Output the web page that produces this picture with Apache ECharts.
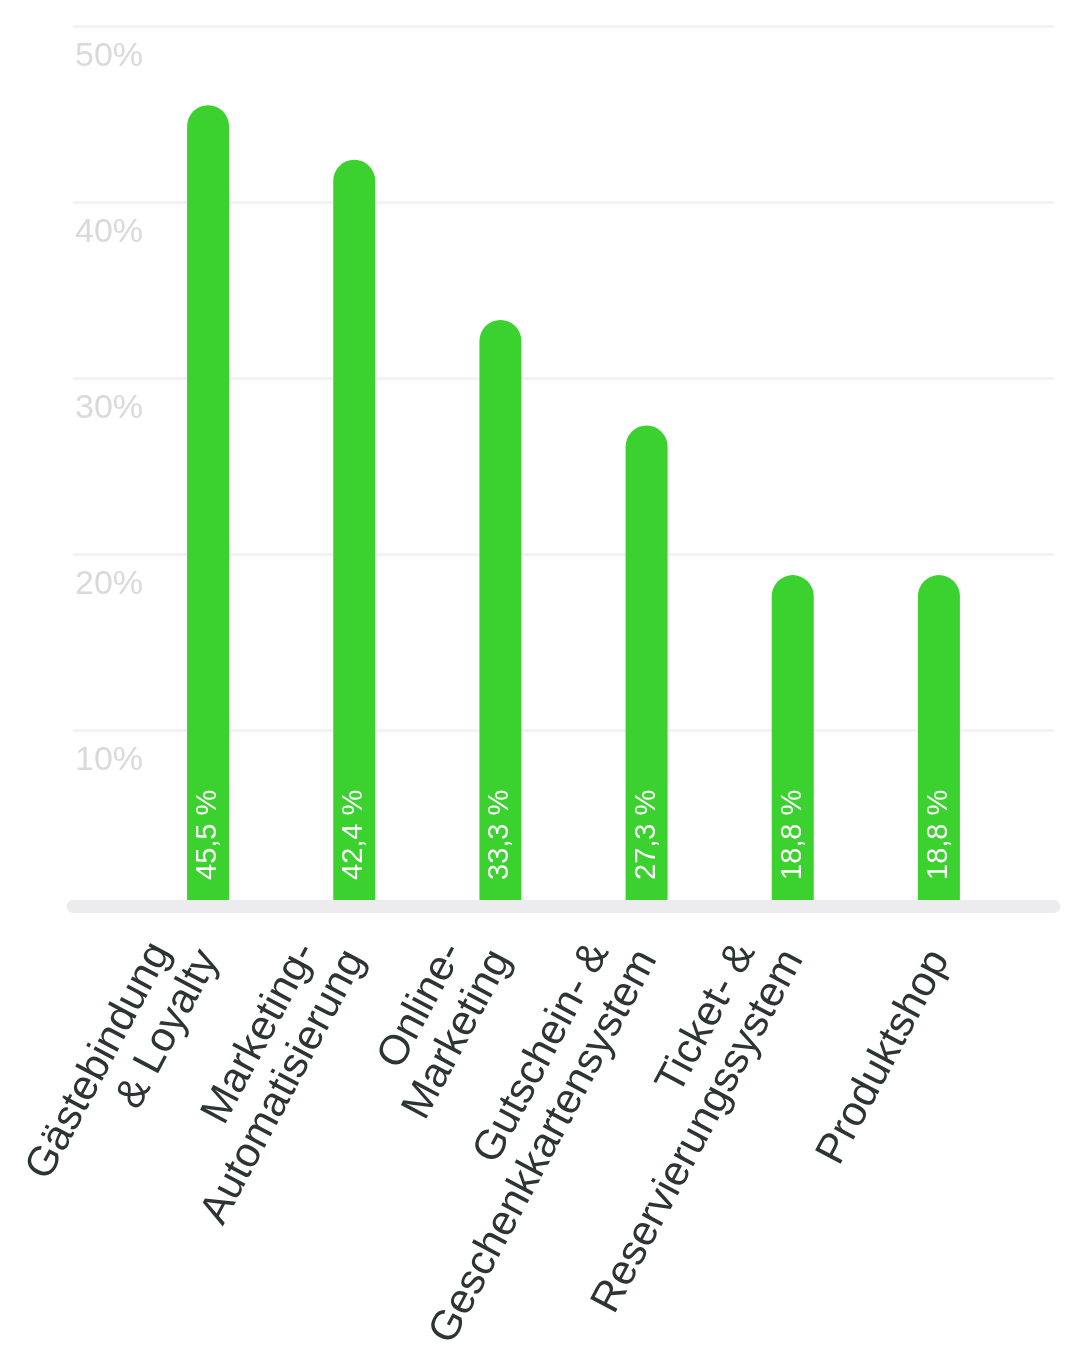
<!DOCTYPE html>
<html>
<head>
<meta charset="utf-8">
<script src="https://cdn.jsdelivr.net/npm/echarts@6/dist/echarts.min.js"></script>
<style>
html,body{margin:0;padding:0;background:#fff;}
#c{width:1081px;height:1361px;}
</style>
</head>
<body>
<div id="c"></div>
<script>
const categories = ['Gästebindung\n& Loyalty', 'Marketing-\nAutomatisierung', 'Online-\nMarketing', 'Gutschein- &\nGeschenkkartensystem', 'Ticket- &\nReservierungssystem', 'Produktshop'];
const values = [45.5, 42.4, 33.3, 27.3, 18.8, 18.8];
const yTicks = [0, 10, 20, 30, 40, 50];

const FONT = "'Liberation Sans', Arial, Helvetica, sans-serif";
const chart = echarts.init(document.getElementById('c'), null, {renderer: 'canvas'});

chart.setOption({
  animation: false,
  backgroundColor: '#ffffff',
  grid: [
    {left: 73, right: 27, top: 26, bottom: 455},
    {left: 135, right: 69, top: 26, bottom: 455},
    {left: 156, right: 48, top: 26, bottom: 455}
  ],
  xAxis: [
    {
      gridIndex: 0, type: 'value', min: 0, max: 1, z: 10,
      axisLabel: {show: false}, axisTick: {show: false}, splitLine: {show: false},
      axisLine: {show: true, lineStyle: {color: '#ececee', width: 13, cap: 'round'}}
    },
    {
      gridIndex: 1, type: 'category', data: categories,
      axisLabel: {show: false}, axisTick: {show: false}, axisLine: {show: false}
    },
    {
      gridIndex: 2, type: 'category', data: categories,
      axisTick: {show: false}, axisLine: {show: false},
      axisLabel: {
        interval: 0, rotate: 62, margin: 58, align: 'right', verticalAlign: 'bottom',
        formatter: function (v) {
          const p = v.split('\n');
          if (p.length === 1) return '{b|' + p[0] + '}';
          return '{a|' + p[0] + '}\n{b|' + p[1] + '}';
        },
        rich: {
          a: {fontFamily: FONT, fontSize: 42, lineHeight: 46, color: '#2d3434', padding: [0, 16, 0, 0]},
          b: {fontFamily: FONT, fontSize: 42, lineHeight: 46, color: '#2d3434'}
        }
      }
    }
  ],
  yAxis: [
    {
      gridIndex: 0, type: 'value', min: yTicks[0], max: yTicks[yTicks.length - 1], interval: 10,
      axisLine: {show: false}, axisTick: {show: false},
      splitLine: {show: true, lineStyle: {color: '#f3f3f3', width: 3}},
      axisLabel: {
        inside: true, margin: 2, color: '#dadadc', fontSize: 34, fontFamily: FONT,
        verticalAlign: 'top', lineHeight: 62,
        formatter: function (v) { return v === 0 ? '' : v + '%'; }
      }
    },
    {gridIndex: 1, type: 'value', min: 0, max: 50, show: false},
    {gridIndex: 2, type: 'value', min: 0, max: 50, show: false}
  ],
  series: [
    {
      type: 'bar', xAxisIndex: 1, yAxisIndex: 1, data: values, barWidth: 42,
      itemStyle: {color: '#3bd230', borderRadius: [21, 21, 0, 0]},
      label: {
        show: true, position: 'insideBottom', distance: 26, rotate: 90,
        align: 'left', verticalAlign: 'middle',
        color: '#ffffff', fontSize: 29, fontFamily: FONT,
        formatter: function (p) { return p.value.toFixed(1).replace('.', ',') + ' %'; }
      }
    }
  ]
});
</script>
</body>
</html>
